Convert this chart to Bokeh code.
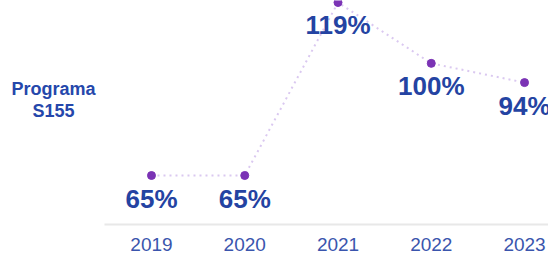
from bokeh.plotting import figure
from bokeh.models import Range1d, FixedTicker, Label, GlobalInlineStyleSheet
from bokeh.core.properties import value
from bokeh.embed import file_html
from bokeh.resources import INLINE

years = ["2019", "2020", "2021", "2022", "2023"]
values = [65, 65, 119, 100, 94]
labels = ["65%", "65%", "119%", "100%", "94%"]
title_lines = ["Programa", "S155"]

xs = [int(y) for y in years]

p = figure(frame_width=548, frame_height=224, output_backend="svg", toolbar_location=None,
           x_range=Range1d(2017.381, 2023.257), y_range=Range1d(49.71, 119.62),
           y_axis_location=None, min_border_left=0, min_border_right=0,
           min_border_top=0, min_border_bottom=30)
p.stylesheets = [GlobalInlineStyleSheet(css="body{margin:0;overflow:hidden}")]
p.outline_line_color = None
p.xgrid.visible = False
p.ygrid.visible = False
p.background_fill_color = "white"
p.border_fill_color = "white"

ax = p.xaxis[0]
ax.ticker = FixedTicker(ticks=xs)
ax.bounds = (2018.496, 2023.3)
ax.major_label_overrides = {x: y for x, y in zip(xs, years)}
ax.axis_line_color = "#e8e8e8"
ax.axis_line_width = 2
ax.major_tick_line_color = None
ax.minor_tick_line_color = None
ax.major_label_standoff = 7
ax.major_label_text_font = "Liberation Sans"
ax.major_label_text_font_size = "19px"
ax.major_label_text_color = "#3a55ad"

p.line(xs, values, line_color="#dac8f0", line_width=2, line_dash="2 4")
p.scatter(xs, values, size=8, color="#7b33b5")
p.text(xs, values, text=labels, y_offset=23, text_align="center", text_baseline="alphabetic",
       text_font=value("Liberation Sans"), text_font_style="bold", text_font_size="26px",
       text_color="#2443a2")

for i, t in enumerate(title_lines):
    p.add_layout(Label(x=53, y=136 - 22 * i, x_units="screen", y_units="screen", text=t,
                       text_align="center", text_baseline="alphabetic",
                       text_font="Liberation Sans", text_font_style="bold",
                       text_font_size="18px", text_color="#2547ab"))

open("out.html", "w").write(file_html(p, INLINE))
